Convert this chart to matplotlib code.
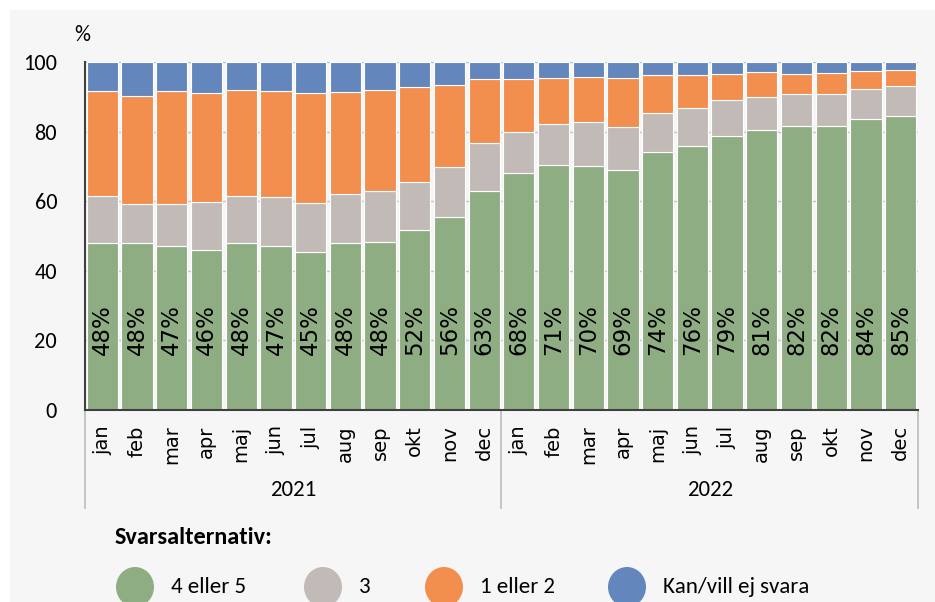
import numpy as np
import matplotlib.pyplot as plt
from matplotlib import font_manager
from matplotlib.patches import Rectangle, Ellipse

months = ["jan", "feb", "mar", "apr", "maj", "jun", "jul", "aug", "sep", "okt", "nov", "dec"]
years = ["2021", "2022"]

# andel per svarsalternativ, i procent (avlästa)
green = [48.0, 48.0, 47.0, 46.0, 48.0, 47.0, 45.3, 48.0, 48.2, 51.6, 55.6, 63.0,
         68.2, 70.5, 70.1, 69.0, 74.0, 76.0, 78.6, 80.6, 81.7, 81.5, 83.7, 84.6]
gray_top = [61.5, 59.2, 59.2, 59.9, 61.5, 61.1, 59.5, 62.1, 62.9, 65.5, 69.9, 76.7,
            79.8, 82.2, 82.7, 81.3, 85.3, 86.8, 89.1, 89.9, 90.9, 90.9, 92.1, 93.1]
orange_top = [91.7, 90.2, 91.7, 91.0, 91.9, 91.7, 91.1, 91.4, 91.9, 92.8, 93.4, 95.0,
              95.0, 95.3, 95.8, 95.4, 96.3, 96.3, 96.6, 97.2, 96.6, 96.7, 97.5, 97.6]
labels = [48, 48, 47, 46, 48, 47, 45, 48, 48, 52, 56, 63,
          68, 71, 70, 69, 74, 76, 79, 81, 82, 82, 84, 85]

green = np.array(green)
gray = np.array(gray_top) - green
orange = np.array(orange_top) - np.array(gray_top)
blue = 100 - np.array(orange_top)

series = ["4 eller 5", "3", "1 eller 2", "Kan/vill ej svara"]
colors = ["#8fad83", "#c2bab6", "#f28e4e", "#6387bd"]

installed = {f.name for f in font_manager.fontManager.ttflist}
narrow = "Lato"
for cand in ["Carlito", "Liberation Sans Narrow"]:
    if cand in installed:
        narrow = cand
        break

W, H = 935, 602
fig = plt.figure(figsize=(W / 100, H / 100), dpi=100)
fig.patch.set_facecolor("white")
fig.add_artist(Rectangle((10 / W, 0), 1, 1 - 10 / H, transform=fig.transFigure,
                         facecolor="#f6f6f6", edgecolor="none", zorder=0))

ax = fig.add_axes([85 / W, 1 - 410 / H, (918 - 85) / W, (410 - 62) / H])
ax.set_facecolor("#f6f6f6")

x = np.arange(24)
bottom = np.zeros(24)
for vals, c in zip([green, gray, orange, blue], colors):
    ax.bar(x, vals, 0.9, bottom=bottom, color=c, edgecolor="white", linewidth=0.8, zorder=2)
    bottom += vals

for i in range(24):
    ax.text(x[i], 23, f"{labels[i]}%", rotation=90, ha="center", va="center",
            fontsize=16.5, color="black", zorder=3)

ax.set_xlim(-0.5, 23.5)
ax.set_ylim(0, 100)
ax.set_yticks([0, 20, 40, 60, 80, 100])
ax.set_yticklabels(["0", "20", "40", "60", "80", "100"], fontsize=16, family=narrow)
ax.grid(axis="y", color="#c4c4c4", linewidth=1, zorder=1)
ax.set_axisbelow(True)
ax.tick_params(axis="y", length=0, pad=20)

ax.set_xticks(x)
ax.set_xticklabels(months * 2, rotation=90, fontsize=14)
ax.tick_params(axis="x", length=0, pad=11)

for s in ["top", "right"]:
    ax.spines[s].set_visible(False)
ax.spines["left"].set_color("#404040")
ax.spines["left"].set_linewidth(1.5)
ax.spines["bottom"].set_color("#404040")
ax.spines["bottom"].set_linewidth(1.5)

# gruppering per år
trans = ax.get_xaxis_transform()
for xs in [-0.5, 11.5, 23.5]:
    ax.plot([xs, xs], [0, -0.282], color="#c0c0c0", linewidth=1.3,
            transform=trans, clip_on=False)
for j, yr in enumerate(years):
    ax.text(5.5 + 12 * j, -0.23, yr, transform=trans, ha="center", va="center",
            fontsize=16.5, family=narrow)

fig.text(82 / W, 1 - 35 / H, "%", ha="center", va="center", fontsize=16, family=narrow)

# legend
fig.text(115 / W, 1 - 538 / H, "Svarsalternativ:", ha="left", va="center",
         fontsize=17.5, fontweight="bold", family=narrow)
leg_x = [135, 323, 444, 627]
for lx, c, name in zip(leg_x, colors, series):
    fig.add_artist(Ellipse((lx / W, 1 - 587 / H), 38 / W, 40 / H,
                           transform=fig.transFigure, facecolor=c, edgecolor="none"))
    fig.text((lx + 36) / W, 1 - 587 / H, name, ha="left", va="center",
             fontsize=16.5, family=narrow)

fig.savefig("out.png", dpi=100)
